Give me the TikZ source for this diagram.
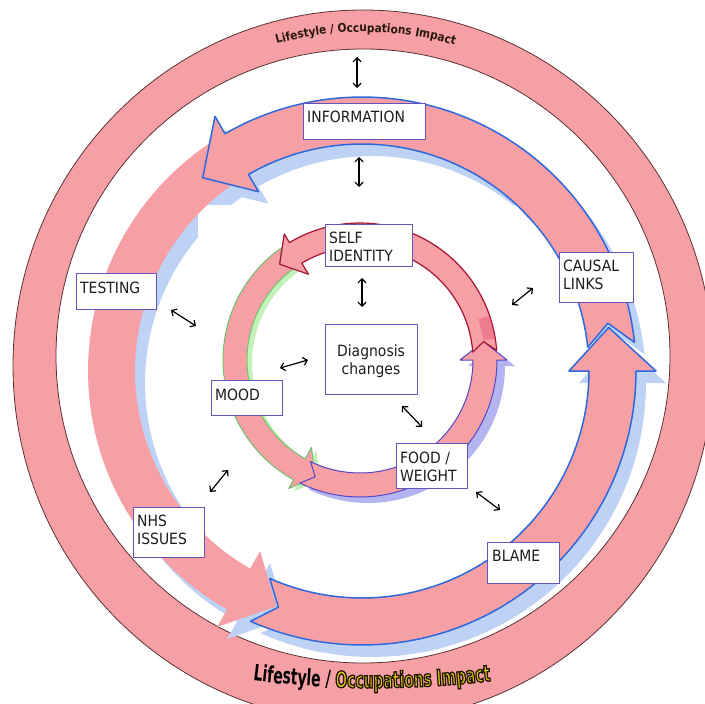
\documentclass[tikz,border=0pt]{standalone}
\usepackage{fontspec}
\usetikzlibrary{arrows.meta,decorations.text}
\newfontfamily\labfont{DejaVu Sans}[FakeStretch=0.9]
\newfontfamily\ringtopfont{DejaVu Sans}[FakeStretch=0.88]
\newfontfamily\ringbotfont{DejaVu Sans}[FakeStretch=0.62]
\definecolor{pinkc}{RGB}{246,160,166}
\definecolor{ringline}{RGB}{90,50,50}
\definecolor{shblue}{RGB}{190,210,245}
\definecolor{outblue}{RGB}{45,105,220}
\definecolor{boxc}{RGB}{100,85,185}
\definecolor{grnline}{RGB}{100,195,100}
\definecolor{grnsh}{RGB}{195,242,185}
\definecolor{purline}{RGB}{85,70,195}
\definecolor{pursh}{RGB}{180,180,240}
\definecolor{redline}{RGB}{165,20,50}
\definecolor{deepred}{RGB}{225,60,95}
\definecolor{occy}{RGB}{222,200,10}
\definecolor{toptx}{RGB}{40,25,10}
\definecolor{txtc}{RGB}{30,30,30}
\newcommand\setring[7]{\def\RgCx{#1}\def\RgCy{#2}\def\RgRi{#3}\def\RgRo{#4}\def\RgRm{#5}\def\RgWi{#6}\def\RgWo{#7}}
\newcommand\arrowpath[4]{%
 plot[domain=#1:#2, samples=60] ({\RgCx+\RgRo*cos(\x)},{\RgCy+\RgRo*sin(\x)})
 -- ({\RgCx+\RgWo*cos(#2)},{\RgCy+\RgWo*sin(#2)})
 -- ({\RgCx+\RgRm*cos(#3)},{\RgCy+\RgRm*sin(#3)})
 -- ({\RgCx+\RgWi*cos(#2)},{\RgCy+\RgWi*sin(#2)})
 -- plot[domain=#2:#1, samples=60] ({\RgCx+\RgRi*cos(\x)},{\RgCy+\RgRi*sin(\x)})
 -- ({\RgCx+\RgRm*cos(#1-#4)},{\RgCy+\RgRm*sin(#1-#4)})
 -- cycle}
\newcommand\toptxt{\ringtopfont\bfseries\fontsize{12}{12}\selectfont\color{toptx}}
\newcommand\bottxt{\ringbotfont\bfseries\fontsize{22.5}{22.5}\selectfont}
\newcommand\occfx{\color{occy}\special{pdf:literal direct 2 Tr 0.12 0.08 0 RG 1.25 w}}
\begin{document}
\begin{tikzpicture}[x=1pt,y=-1pt,
  box/.style={draw=boxc, line width=1.2pt, fill=white, inner sep=0pt, anchor=north west},
  lab/.style={font=\labfont\fontsize{15.5}{18}\selectfont, inner sep=0pt, anchor=north west, align=left, text=txtc},
  dbl/.style={{Straight Barb[length=4pt,width=8pt]}-{Straight Barb[length=4pt,width=8pt]}, line width=1.2pt, black},
  ringedge/.style={draw=ringline, line width=0.8pt}]
\useasboundingbox (0,0) rectangle (705,704);
\fill[white] (0,0) rectangle (705,704);
% outer ring
\fill[pinkc, even odd rule] (363,366) ellipse[x radius=350pt, y radius=356pt] (363,356) circle[radius=307pt];
\draw[ringedge] (363,366) ellipse[x radius=350pt, y radius=356pt];
\draw[ringedge] (363,356) circle[radius=307pt];
% middle ring
\setring{362}{371}{227}{274}{250.5}{207}{294}
\fill[shblue, shift={(10,12)}] \arrowpath{236}{119.5}{110}{5};
\fill[shblue, shift={(10,12)}] \arrowpath{114}{0}{-10}{4.5};
\fill[shblue, shift={(10,12)}] \arrowpath{354}{240}{230.5}{5};
\fill[white] (198,205) rectangle (523,540);
\fill[pinkc] \arrowpath{236}{119.5}{110}{5};
\filldraw[fill=pinkc, draw=outblue, line width=1.5pt, line join=round] \arrowpath{114}{0}{-10}{4.5};
\filldraw[fill=pinkc, draw=outblue, line width=1.5pt, line join=round] \arrowpath{354}{240}{230.5}{5};
% inner ring
\setring{360}{360}{113}{137}{125}{100}{147}
\fill[grnsh, shift={(5,3)}] \arrowpath{235}{119}{111}{5};
\fill[pursh, shift={(8,6)}] \arrowpath{116}{0}{-8.5}{5};
\filldraw[fill=pinkc, draw=grnline, line width=0.9pt, line join=round] \arrowpath{235}{119}{111}{5};
\filldraw[fill=pinkc, draw=purline, line width=1pt, line join=round] \arrowpath{116}{0}{-8.5}{5};
\filldraw[fill=pinkc, draw=redline, line width=1.2pt, line join=round] \arrowpath{356}{239}{230}{4.5};
\fill[deepred, opacity=0.35]
  plot[domain=351:341, samples=20] ({\RgCx+\RgRo*cos(\x)},{\RgCy+\RgRo*sin(\x)})
  -- plot[domain=341:351, samples=20] ({\RgCx+125*cos(\x)},{\RgCy+125*sin(\x)}) -- cycle;
% boxes
\node[box, minimum width=122pt, minimum height=36pt] (info) at (303,103) {};
\node[lab] (infot) at (307,111) {INFORMATION};
\node[box, minimum width=87pt, minimum height=42pt] (self) at (325,224) {};
\node[lab] (selft) at (329,232) {SELF\\IDENTITY};
\node[box, minimum width=74pt, minimum height=50pt] (causal) at (559,252) {};
\node[lab] (causalt) at (563,260) {CAUSAL\\LINKS};
\node[box, minimum width=80pt, minimum height=36pt] (testing) at (76,273) {};
\node[lab] (testingt) at (80,282) {TESTING};
\node[box, minimum width=92pt, minimum height=70pt] (diag) at (325,324) {};
\node[lab, anchor=north, align=center] (diagt) at (371,345) {Diagnosis\\changes};
\node[box, minimum width=71pt, minimum height=35pt] (mood) at (211,380) {};
\node[lab] (moodt) at (215,389) {MOOD};
\node[box, minimum width=71pt, minimum height=45pt] (food) at (396,443) {};
\node[lab] (foodt) at (400,452) {FOOD /\\WEIGHT};
\node[box, minimum width=71pt, minimum height=50pt] (nhs) at (133,507) {};
\node[lab] (nhst) at (137,515) {NHS\\ISSUES};
\node[box, minimum width=72pt, minimum height=41pt] (blame) at (487,542) {};
\node[lab] (blamet) at (492,550) {BLAME};
% double arrows
\coordinate (p1a) at (357,57);  \coordinate (p1b) at (357,88);
\coordinate (p2a) at (359,157); \coordinate (p2b) at (359,187);
\coordinate (p3a) at (362,278); \coordinate (p3b) at (362,307);
\coordinate (p4a) at (171,310); \coordinate (p4b) at (196,326);
\coordinate (p5a) at (512,305); \coordinate (p5b) at (533,288);
\coordinate (p6a) at (280,368); \coordinate (p6b) at (308,360);
\coordinate (p7a) at (402,406); \coordinate (p7b) at (422,427);
\coordinate (p8a) at (210,492); \coordinate (p8b) at (228,470);
\coordinate (p9a) at (476,492); \coordinate (p9b) at (500,510);
\draw[dbl] (p1a) -- (p1b);
\draw[dbl] (p2a) -- (p2b);
\draw[dbl] (p3a) -- (p3b);
\draw[dbl] (p4a) -- (p4b);
\draw[dbl] (p5a) -- (p5b);
\draw[dbl] (p6a) -- (p6b);
\draw[dbl] (p7a) -- (p7b);
\draw[dbl] (p8a) -- (p8b);
\draw[dbl] (p9a) -- (p9b);
% ring texts (drawn last; the outlined-letter effect stays inside each letter's scope)
\path[decorate, decoration={text along path, text align=center,
  text={|\toptxt|Lifestyle / Occupations Impact}}]
  plot[domain=240:301, samples=60] ({363+324*cos(\x)},{356+324*sin(\x)});
\path[decorate, decoration={text along path, text align=center,
  text={|\bottxt\color{black}|Lifestyle / |\bottxt\occfx|Occupations Impact}}]
  plot[domain=100:80, samples=40] ({372+1000*cos(\x)},{-312+1000*sin(\x)});
\end{tikzpicture}
\end{document}
